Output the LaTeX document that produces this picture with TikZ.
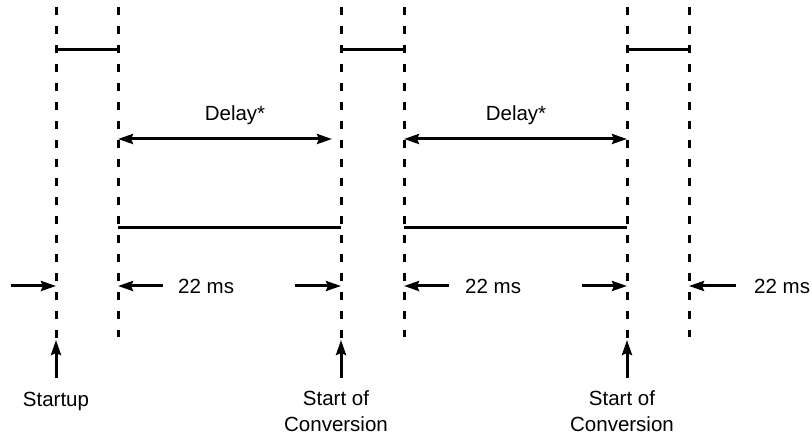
\documentclass[tikz,border=0pt]{standalone}
\usepackage{fontspec}
\setmainfont{Liberation Sans}
\usetikzlibrary{arrows.meta}
\tikzset{
  guide/.style={line width=3pt, dash pattern=on 8pt off 11pt},
  solidln/.style={line width=3pt},
  arr/.style={line width=3pt, -{Stealth[length=15pt,width=10pt,inset=2pt]}},
  darr/.style={line width=3pt, {Stealth[length=15pt,width=10pt,inset=2pt]}-{Stealth[length=15pt,width=10pt,inset=2pt]}},
  lbl/.style={font=\fontsize{20.5}{26}\selectfont, inner sep=0pt, align=center}
}
\begin{document}
\begin{tikzpicture}[x=1pt,y=-1pt]
\useasboundingbox (0,0) rectangle (812,435);
% guide lines
\foreach \n/\x/\e in {1/56/340,2/118/337,3/341/340,4/404/337,5/627/340,6/689/337}{
  \coordinate (t\n) at (\x,7);
  \coordinate (b\n) at (\x,\e);
  \draw[guide] (t\n) -- (b\n);
}
% pulses
\coordinate (p1a) at (56,50); \coordinate (p1b) at (118,50);
\coordinate (p2a) at (341,50); \coordinate (p2b) at (404,50);
\coordinate (p3a) at (627,50); \coordinate (p3b) at (689,50);
\draw[solidln] (p1a) -- (p1b);
\draw[solidln] (p2a) -- (p2b);
\draw[solidln] (p3a) -- (p3b);
% delay arrows
\coordinate (d1a) at (118,139); \coordinate (d1b) at (332,139);
\coordinate (d2a) at (404,139); \coordinate (d2b) at (627,139);
\draw[darr] (d1a) -- (d1b);
\draw[darr] (d2a) -- (d2b);
\node[lbl] (dl1) at (235,115) {Delay*};
\node[lbl] (dl2) at (516,115) {Delay*};
% low levels
\coordinate (l1a) at (118,228); \coordinate (l1b) at (341,228);
\coordinate (l2a) at (404,228); \coordinate (l2b) at (627,228);
\draw[solidln] (l1a) -- (l1b);
\draw[solidln] (l2a) -- (l2b);
% 22 ms arrows
\coordinate (m0s) at (11,286);  \coordinate (m0e) at (56,286);
\coordinate (m1s) at (163,286); \coordinate (m1e) at (118,286);
\coordinate (m2s) at (295,286); \coordinate (m2e) at (341,286);
\coordinate (m3s) at (449,286); \coordinate (m3e) at (404,286);
\coordinate (m4s) at (582,286); \coordinate (m4e) at (627,286);
\coordinate (m5s) at (736,286); \coordinate (m5e) at (689,286);
\foreach \k in {0,...,5}{\draw[arr] (m\k s) -- (m\k e);}
\node[lbl, anchor=west] (ms1) at (178,286) {22 ms};
\node[lbl, anchor=west] (ms2) at (465,286) {22 ms};
\node[lbl, anchor=west] (ms3) at (754,286) {22 ms};
% event arrows
\coordinate (u1) at (56,378); \coordinate (u2) at (341,378); \coordinate (u3) at (627,378);
\draw[arr] (u1) -- (b1);
\draw[arr] (u2) -- (b3);
\draw[arr] (u3) -- (b5);
\node[lbl] (st) at (56,401) {Startup};
\node[lbl] (sc1) at (336,411) {Start of\\Conversion};
\node[lbl] (sc2) at (622,411) {Start of\\Conversion};
\end{tikzpicture}
\end{document}
